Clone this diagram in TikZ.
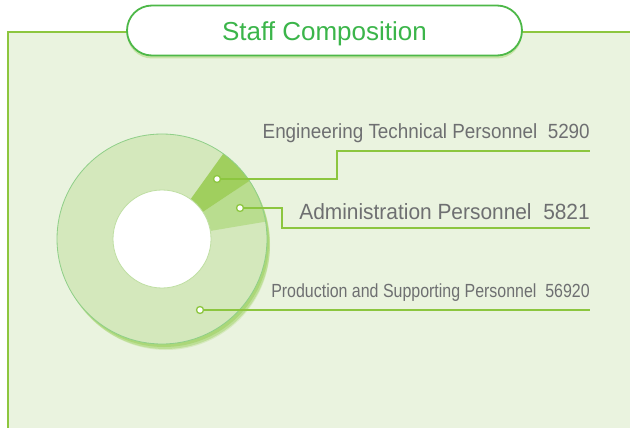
\documentclass[tikz,border=0pt]{standalone}
\usepackage{fontspec}
\setmainfont{Liberation Sans}
\newfontfamily\engfont[FakeStretch=0.92]{Liberation Sans}
\newfontfamily\admfont[FakeStretch=0.95]{Liberation Sans}
\newfontfamily\prdfont[FakeStretch=0.84]{Liberation Sans}
\usetikzlibrary{shadows}
\definecolor{panelfill}{HTML}{EAF3DF}
\definecolor{panelline}{HTML}{8DC63F}
\definecolor{pillline}{HTML}{4DB848}
\definecolor{titlegreen}{HTML}{3BB54A}
\definecolor{prodgreen}{HTML}{D4E8BC}
\definecolor{admgreen}{HTML}{B9DD8F}
\definecolor{enggreen}{HTML}{A0CF5E}
\definecolor{ringline}{HTML}{8FCF88}
\definecolor{innerline}{HTML}{BFDFA3}
\definecolor{shadowgreen}{HTML}{9FD264}
\definecolor{linegreen}{HTML}{8CC63F}
\definecolor{textgray}{HTML}{6E6F71}
\pgfdeclarelayer{nodelayer}
\pgfdeclarelayer{edgelayer}
\pgfsetlayers{main,edgelayer,nodelayer}
\tikzset{dot/.style={circle, draw=linegreen, fill=white, line width=1.3pt, inner sep=0pt, minimum size=7pt}}
\tikzset{conn/.style={draw=linegreen, line width=1.8pt}}
\tikzset{lbl/.style={anchor=base east, inner sep=0pt, text=textgray}}
\tikzset{pill/.style={draw=pillline, line width=1.8pt, fill=white, rounded corners=25pt,
minimum width=395pt, minimum height=50pt, text height=20pt, text depth=0pt,
text=titlegreen, font=\fontsize{26}{30}\selectfont,
drop shadow={shadow xshift=0pt, shadow yshift=-3pt, fill=shadowgreen, opacity=.45}}}
\tikzstyle{none}=[inner sep=0pt]

\begin{document}
\begin{tikzpicture}[x=1pt, y=-1pt]
	\useasboundingbox (0,0) rectangle (630,428);
	\fill [panelfill] (8,32) rectangle (630,428);
	\draw [panelline, line width=2.2pt] (8,428) -- (8,32) -- (630,32);
	\node [style=pill] (11) at (324.5,30.5) {Staff Composition};
	\coordinate (12) at (162,239);
	\fill [shadowgreen, opacity=.25] ([shift={(4,7)}]12) circle[radius=104];
	\fill [shadowgreen, opacity=.45] ([shift={(3,5)}]12) circle[radius=105];
	\fill [shadowgreen, opacity=.6] ([shift={(2,3)}]12) circle[radius=105];
	\fill [prodgreen] (12) circle[radius=105];
	\fill [admgreen] ([shift={(-9.5:49)}]12) -- ([shift={(-9.5:105)}]12)
		arc[start angle=-9.5, end angle=-33.6, radius=105] -- ([shift={(-33.6:49)}]12) -- cycle;
	\fill [enggreen] ([shift={(-33.6:49)}]12) -- ([shift={(-33.6:105)}]12)
		arc[start angle=-33.6, end angle=-54.3, radius=105] -- ([shift={(-54.3:49)}]12) -- cycle;
	\draw [ringline, line width=.8pt] (12) circle[radius=105];
	\filldraw [fill=white, draw=innerline, line width=.8pt] (12) circle[radius=49];
	\begin{pgfonlayer}{nodelayer}
		\node [style=dot] (0) at (217,179) {};
		\node [style=dot] (1) at (240,208) {};
		\node [style=dot] (2) at (200,310) {};
		\node [style=lbl, font=\engfont\fontsize{20.5}{24}\selectfont] (3) at (590,139) {Engineering Technical Personnel\ \ 5290};
		\node [style=lbl, font=\admfont\fontsize{22}{26}\selectfont] (4) at (590,219) {Administration Personnel\ \ 5821};
		\node [style=lbl, font=\prdfont\fontsize{19}{23}\selectfont] (5) at (590,297.7) {Production and Supporting Personnel\ \ 56920};
		\coordinate (6) at (336.7,151);
		\coordinate (7) at (590,151);
		\coordinate (8) at (281.7,228.3);
		\coordinate (9) at (590,228.3);
		\coordinate (10) at (590,310);
	\end{pgfonlayer}
	\begin{pgfonlayer}{edgelayer}
		\draw [style=conn] (0) -- (0 -| 6) |- (7);
		\draw [style=conn] (1) -- (1 -| 8) |- (9);
		\draw [style=conn] (2) -- (10);
	\end{pgfonlayer}
\end{tikzpicture}
\end{document}
